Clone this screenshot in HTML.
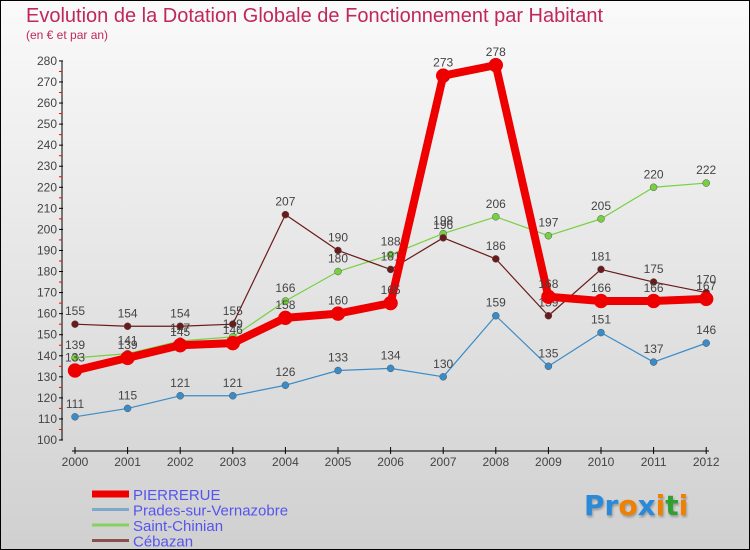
<!DOCTYPE html>
<html><head><meta charset="utf-8"><style>
body{margin:0}
#wrap{position:relative;width:748px;height:548px;border:1px solid #000;background:linear-gradient(#fafafa,#d0d0d0);font-family:"Liberation Sans",sans-serif;overflow:hidden}
.t{position:absolute;color:#c0275a;white-space:nowrap}
</style></head><body>
<div id="wrap">
<div class="t" style="left:25px;top:4px;font-size:20px">Evolution de la Dotation Globale de Fonctionnement par Habitant</div>
<div class="t" style="left:25px;top:27px;font-size:12px">(en € et par an)</div>
<svg id="svg" width="748" height="548" style="position:absolute;left:0;top:0"></svg>
<div style="position:absolute;left:583px;top:488px;font-size:28px;font-weight:bold;font-family:'DejaVu Sans',sans-serif;text-shadow:1px 2px 2px #999"><span style="color:#2a8ad8">Pr</span><span style="color:#f08000">o</span><span style="color:#2a8ad8">x</span><span style="color:#f08000">i</span><span style="color:#30a030">t</span><span style="color:#f08000">i</span></div>
</div>
<script>
const years=["2000","2001","2002","2003","2004","2005","2006","2007","2008","2009","2010","2011","2012"];
const pierrerue=[133,139,145,146,158,160,165,273,278,168,166,166,167];
const prades=[111,115,121,121,126,133,134,130,159,135,151,137,146];
const saintChinian=[139,141,147,149,166,180,188,198,206,197,205,220,222];
const cebazan=[155,154,154,155,207,190,181,196,186,159,181,175,170];
const yTicks=[100,110,120,130,140,150,160,170,180,190,200,210,220,230,240,250,260,270,280];
const svg=document.getElementById('svg');const NS='http://www.w3.org/2000/svg';
const X=i=>74+i*52.6;const Y=v=>439-(v-100)*2.106;
function mk(t,a){const e=document.createElementNS(NS,t);for(const k in a)e.setAttribute(k,a[k]);svg.appendChild(e);return e;}
let e=mk('line',{x1:61,y1:Y(280),x2:61,y2:Y(100),stroke:'#000'});

e=mk('line',{x1:71,y1:450,x2:708,y2:450,stroke:'#000'});

yTicks.forEach(v=>{mk('line',{x1:58,y1:Y(v),x2:62,y2:Y(v),stroke:'#000'});
 if(v<280)mk('line',{x1:58,y1:Y(v+5),x2:61,y2:Y(v+5),stroke:'#f00'});
 const t=mk('text',{x:56,y:Y(v)+4,'text-anchor':'end','font-size':12,fill:'#444'});t.textContent=v;
 });
years.forEach((y,i)=>{mk('line',{x1:X(i),y1:446,x2:X(i),y2:453,stroke:'#000'});
 const t=mk('text',{x:X(i),y:465,'text-anchor':'middle','font-size':12,fill:'#444'});t.textContent=y;
 });
function series(d,col,w,r,name){
 const l=mk('polyline',{points:d.map((v,i)=>X(i)+','+Y(v)).join(' '),fill:'none',stroke:col,'stroke-width':w,'stroke-linejoin':'round'});
 
 d.forEach((v,i)=>{const c=mk('circle',{cx:X(i),cy:Y(v),r:r,fill:col,stroke:w>3?col:'#555','stroke-width':0.5});
  
  const t=mk('text',{x:X(i),y:Y(v)-9,'text-anchor':'middle','font-size':12,fill:'#444'});t.textContent=v;
  });
}
series(prades,'#3a8cc8',1.2,3.5,'prades');
series(saintChinian,'#77d040',1.2,3.5,'saint-chinian');
series(cebazan,'#6a1a1a',1.2,3.5,'cebazan');
series(pierrerue,'#ee0000',8,7,'pierrerue');
const legNames=["PIERRERUE","Prades-sur-Vernazobre","Saint-Chinian","Cébazan"];
const legCols=['#ee0000','#7fa8cc','#88d060','#8a5050'];const legW=[7,3,3,3];
legNames.forEach((n,i)=>{const y=493+i*15.5;
 const l=mk('line',{x1:91,y1:y,x2:128,y2:y,stroke:legCols[i],'stroke-width':legW[i]});
 
 const t=mk('text',{x:132,y:y+6,'font-size':15,fill:'#5555ee'});t.textContent=n;
 });
</script>
</body></html>
